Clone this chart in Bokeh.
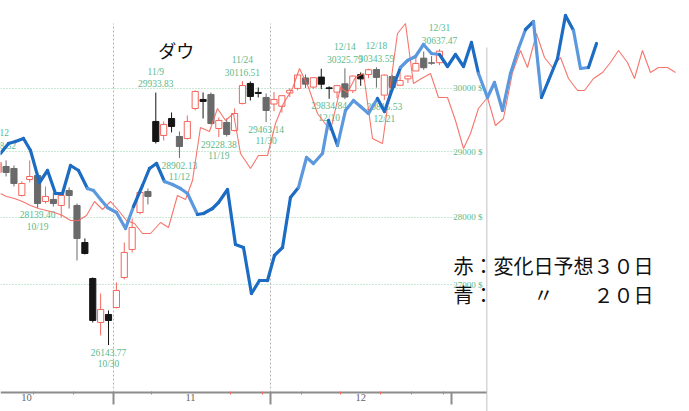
from bokeh.plotting import figure
from bokeh.models import (ColumnDataSource, Range1d, LinearAxis, FixedTicker, Grid, Label,
                          LinearScale, CustomJSTickFormatter)
from bokeh.core.properties import value
from bokeh.embed import file_html
from bokeh.resources import INLINE

# ---------------- data ----------------
dates = ["10/12", "10/13", "10/14", "10/15", "10/16", "10/19", "10/20", "10/21", "10/22", "10/23",
         "10/26", "10/27", "10/28", "10/29", "10/30", "11/2", "11/3", "11/4", "11/5", "11/6",
         "11/9", "11/10", "11/11", "11/12", "11/13", "11/16", "11/17", "11/18", "11/19", "11/20",
         "11/23", "11/24", "11/25", "11/27", "11/30", "12/1", "12/2", "12/3", "12/4", "12/7",
         "12/8", "12/9", "12/10", "12/11", "12/14", "12/15", "12/16", "12/17", "12/18", "12/21",
         "12/22", "12/23", "12/24", "12/28", "12/29", "12/30", "12/31"]
opens = [28679, 28771, 28740, 28327, 28571, 28633, 28236, 28267, 28176, 28403,
         28176, 27622, 27094, 26463, 26576, 26676, 27109, 27519, 28070, 28388,
         29474, 29253, 29521, 29237, 29206, 29680, 29824, 29904, 29363, 29458,
         29332, 29760, 30081, 29936, 29856, 29751, 29715, 29927, 30001, 30170,
         30022, 30184, 30010, 29941, 30075, 29964, 30223, 30225, 30306, 29893,
         30192, 30052, 30155, 30283, 30492, 30415, 30417]
highs = [28958.52, 28864, 28787, 28541, 28864, 28679, 28464, 28373, 28358, 28449,
         28206, 27682, 27109, 26877, 26634, 27037, 27622, 27980, 28434, 28434,
         29933.83, 29474, 29616, 29316, 29569, 29968, 29936, 29936, 29537, 29521,
         29680, 30116.51, 30113, 30016, 29920, 29943, 29884, 30005, 30218, 30227,
         30180, 30319, 30035, 30058, 30325.79, 30208, 30259, 30320, 30343.59, 30226,
         30220, 30265, 30209, 30526, 30600, 30525, 30637.47]
lows = [28648, 28617, 28465, 28312, 28525, 28139.40, 28206, 28160, 27995, 28130,
        27357, 27445, 26463, 26279, 26143.77, 26662, 27080, 27475, 28040, 28191,
        29128, 29175, 29301, 28902.13, 29190, 29648, 29521, 29427, 29228.38, 29237,
        29316, 29744, 29808, 29856, 29463.14, 29636, 29614, 29863, 29970, 30007,
        29996, 29989, 29834.84, 29841, 29830, 29926, 30043, 30166, 30014, 29815.53,
        29947, 30052, 30090, 30283, 30301, 30383, 30378]
closes = [28833, 28679, 28510, 28510, 28617, 28206, 28312, 28206, 28327, 28327,
          27682, 27460, 26491, 26648, 26491, 26921, 27475, 27845, 28373, 28312,
          29159, 29427, 29395, 29081, 29474, 29952, 29792, 29442, 29490, 29269,
          29600, 30048, 29872, 29920, 29648, 29824, 29884, 29970, 30218, 30070,
          30174, 30069, 29999, 30046, 29862, 30200, 30155, 30303, 30179, 30216,
          30016, 30130, 30200, 30404, 30336, 30410, 30606]
black_days = ["10/27", "10/28", "10/30", "11/9", "11/11", "11/17", "11/25", "11/27",
              "12/9", "12/10", "12/16"]

# high / low annotations
ann_dates = ["10/12", "10/19", "10/30", "11/9", "11/12", "11/19", "11/24", "11/30",
             "12/10", "12/14", "12/18", "12/21", "12/31"]
ann_kind = ["high", "low", "low", "high", "low", "low", "high", "low",
            "low", "high", "high", "low", "high"]

# forecast lines (x = trading-day index, v = signal level)
red_x = [0.29, 1.05, 2.07, 3.08, 4.10, 5.11, 6.13, 7.14, 8.16, 9.18, 10.19, 11.21, 12.22, 13.24,
         14.25, 15.27, 16.28, 17.30, 18.31, 19.33, 20.60, 21.61, 22.75, 23.77, 24.66, 25.67,
         26.81, 27.83, 28.85, 29.86, 30.75, 32.02, 33.03, 34.18, 35.19, 36.21, 37.35, 38.24,
         39.38, 40.52, 42.17, 43.44, 44.33, 45.34, 46.36, 47.50, 48.77, 50.67, 51.69, 52.70,
         53.72, 54.86, 55.88, 57.02, 58.03, 59.05, 59.94, 60.95, 62.09, 63.11, 64.12, 65.27,
         66.28, 67.17, 68.31, 69.33, 70.34, 71.36, 72.37, 73.52, 74.41, 75.55, 76.69, 77.70,
         78.72, 79.86, 80.75, 81.76, 82.78, 83.79, 84.94, 85.95]
red_v = [218, 215, 213, 210, 206, 203, 201, 199, 196, 191, 191, 196, 210, 202,
         210, 201, 191, 188, 178, 178, 189, 184, 216, 212, 231, 284,
         280, 303, 291, 298, 258, 243, 256, 256, 288, 308, 323, 343,
         324, 298, 281, 324, 319, 334, 338, 273, 268, 378, 388, 328,
         333, 338, 314, 314, 291, 263, 278, 303, 314, 286, 293, 339,
         361, 344, 378, 354, 344, 354, 333, 321, 321, 333, 339, 349,
         361, 349, 333, 361, 339, 344, 344, 339]
blue_x = [0.29, 1.31, 2.20, 3.21, 4.10, 5.24, 6.26, 7.27, 8.16, 9.18, 10.19, 11.33, 12.09, 13.11,
          13.87, 15.01, 16.16, 17.17, 18.31, 19.20, 20.09, 21.10, 22.12, 23.13, 24.02, 25.29,
          26.05, 27.19, 27.96, 29.10, 30.11, 31.13, 32.14, 33.16, 34.18, 35.06, 36.08, 37.09,
          38.11, 39.13, 40.01, 41.15, 41.92, 43.06, 44.07, 45.09, 45.98, 46.99, 48.13, 49.02,
          50.04, 51.05, 51.94, 52.96, 53.97, 54.99, 56.00, 57.02, 58.03, 59.05, 60.06, 60.95,
          62.09, 62.98, 64.00, 65.01, 66.03, 66.92, 67.93, 68.95, 69.84, 70.98, 71.99, 73.01,
          73.90, 74.91, 75.93]
blue_v = [258, 268, 270, 273, 261, 229, 241, 218, 218, 246, 241, 223, 221, 211,
          204, 199, 183, 205, 226, 243, 248, 230, 227, 223, 218, 197,
          198, 203, 209, 222, 167, 164, 118, 131, 131, 156, 164, 214,
          224, 254, 248, 258, 291, 266, 301, 311, 305, 298, 313, 300,
          323, 344, 351, 355, 367, 358, 357, 345, 357, 345, 369, 338,
          314, 329, 301, 338, 363, 382, 390, 314, 331, 353, 396, 381,
          343, 344, 368]
blue_light_segments = [11, 12, 13, 14, 15, 16, 21, 22, 23, 24, 38, 39, 40, 41, 43, 44, 45,
                       46, 47, 51, 52, 53, 54, 55, 61, 62, 63, 64, 65, 66, 68, 73, 74]

month_labels = ["10", "11", "12"]
month_label_pos = [3.6, 24.4, 46.0]
month_edges = [14.6, 34.55, 57.5]
week_edges = [4.5, 9.5, 19.5, 29.5, 33.5, 38.5, 43.5, 48.5, 52.5, 56.5]
price_ticks = [27000, 28000, 29000, 30000]

title_text = "ダウ"
note_lines = ["赤：変化日予想３０日", "青：　　〃　　２０日"]

# ---------------- layout constants ----------------
X_START, X_END = 0.292, 87.73
Y_START, Y_END = 25229, 31449
PANEL_EDGE = 62.0          # right edge of the Dow panel (index)
AXIS_PRICE = 25488         # price level where the date axis sits
GRID_TOP = 31064
LABEL_AXIS_X = 61.7

RED = "#f4665c"
GREEN = "#5cb98a"
NARROW = "Liberation Sans Narrow"
JP = "Noto Sans CJK JP"

p = figure(width=689, height=411, output_backend="svg", toolbar_location=None,
           x_range=Range1d(X_START, X_END), y_range=Range1d(Y_START, Y_END),
           y_axis_type="log", x_axis_location=None, y_axis_location=None,
           min_border=0, background_fill_color="white", border_fill_color="white")
p.outline_line_color = None
p.grid.visible = False
p.extra_y_ranges = {"fc": Range1d(0, 411)}
p.extra_y_scales = {"fc": LinearScale()}

# grids
ygrid = Grid(dimension=1, ticker=FixedTicker(ticks=price_ticks),
             grid_line_color="#8fd3ad", grid_line_dash="1 2", grid_line_width=1)
xgrid = Grid(dimension=0, ticker=FixedTicker(ticks=month_edges[:2]),
             grid_line_color="#b5b5b5", grid_line_dash="2 2", grid_line_width=1)
if "cross_bounds" in Grid.properties():
    ygrid.cross_bounds = (X_START, 58.0)
    xgrid.cross_bounds = (AXIS_PRICE, GRID_TOP)
p.add_layout(ygrid, "center")
p.add_layout(xgrid, "center")

# separator of the Dow panel
p.segment(x0=[PANEL_EDGE], y0=[30667], x1=[PANEL_EDGE], y1=[Y_START],
          line_color="#d6d6d6", line_width=1.5)

# candles
idx = list(range(len(dates)))
up = [i for i in idx if closes[i] >= opens[i]]
dn = [i for i in idx if closes[i] < opens[i]]
up_src = ColumnDataSource(dict(x=up, o=[opens[i] for i in up], c=[closes[i] for i in up],
                               h=[highs[i] for i in up], l=[lows[i] for i in up]))
dn_src = ColumnDataSource(dict(x=dn, o=[opens[i] for i in dn], c=[closes[i] for i in dn],
                               h=[highs[i] for i in dn], l=[lows[i] for i in dn],
                               col=["#151515" if dates[i] in black_days else "#6a6a6a" for i in dn]))
p.segment(x0="x", y0="h", x1="x", y1="l", source=up_src, line_color=RED, line_width=1)
p.vbar(x="x", width=0.78, top="c", bottom="o", source=up_src,
       fill_color="white", line_color=RED, line_width=1)
p.segment(x0="x", y0="h", x1="x", y1="l", source=dn_src, line_color="col", line_width=1)
p.vbar(x="x", width=0.78, top="o", bottom="c", source=dn_src,
       fill_color="col", line_color="col", line_width=1)

# high / low labels
ai = [dates.index(d) for d in ann_dates]
av = [highs[i] if k == "high" else lows[i] for i, k in zip(ai, ann_kind)]
ann_src = ColumnDataSource(dict(
    x=ai, y=av, d=ann_dates, t=["%.2f" % v for v in av],
    off_v=[-9 if k == "high" else 7 for k in ann_kind],
    off_d=[-21 if k == "high" else 19 for k in ann_kind]))
p.text(x="x", y="y", text="t", y_offset="off_v", source=ann_src, text_align="center",
       text_baseline="middle", text_font=value(NARROW), text_font_size="9.5px", text_color=GREEN)
p.text(x="x", y="y", text="d", y_offset="off_d", source=ann_src, text_align="center",
       text_baseline="middle", text_font=value(NARROW), text_font_size="9.5px", text_color=GREEN)

# forecast lines
p.line(red_x, red_v, y_range_name="fc", line_color=RED, line_width=1.1, line_alpha=0.9)
light = set(blue_light_segments)
seg_src = ColumnDataSource(dict(
    x0=blue_x[:-1], x1=blue_x[1:], y0=blue_v[:-1], y1=blue_v[1:],
    col=["#5b98dd" if k in light else "#1d6cc4" for k in range(len(blue_x) - 1)]))
p.segment(x0="x0", y0="y0", x1="x1", y1="y1", source=seg_src, y_range_name="fc",
          line_color="col", line_width=3.2, line_cap="round")

# date axis
xaxis = LinearAxis(fixed_location=AXIS_PRICE,
                   ticker=FixedTicker(ticks=month_label_pos, minor_ticks=month_edges),
                   formatter=CustomJSTickFormatter(args=dict(pos=month_label_pos, labels=month_labels),
                                                   code="const i = pos.findIndex(q => Math.abs(q - tick) < 1e-6); return i >= 0 ? labels[i] : '';"),
                   bounds=(X_START, PANEL_EDGE),
                   axis_line_color="#8c8c8c", axis_line_width=2,
                   major_tick_line_color=None, major_tick_out=0, major_tick_in=0,
                   minor_tick_line_color="#8c8c8c", minor_tick_line_width=2,
                   minor_tick_out=12, minor_tick_in=0,
                   major_label_standoff=-10, major_label_text_font=NARROW,
                   major_label_text_font_size="10.5px", major_label_text_color="#666666")
p.add_layout(xaxis, "below")
wk_axis = LinearAxis(fixed_location=AXIS_PRICE,
                     ticker=FixedTicker(ticks=[], minor_ticks=week_edges),
                     bounds=(X_START, PANEL_EDGE), axis_line_color=None,
                     major_tick_line_color=None, major_label_text_font_size="0px",
                     minor_tick_line_color=RED, minor_tick_line_width=1,
                     minor_tick_out=2, minor_tick_in=1)
p.add_layout(wk_axis, "below")

# price labels
yaxis = LinearAxis(fixed_location=LABEL_AXIS_X, ticker=FixedTicker(ticks=price_ticks),
                   formatter=CustomJSTickFormatter(code="return tick.toFixed(0) + ' $';"),
                   axis_line_color=None, major_tick_line_color=None, minor_tick_line_color=None,
                   major_tick_out=0, major_tick_in=0, major_label_standoff=2,
                   major_label_text_font=NARROW, major_label_text_font_size="9px",
                   major_label_text_color=GREEN)
p.add_layout(yaxis, "left")

# texts
p.add_layout(Label(x=22.6, y=30618, text=title_text, text_align="center", text_baseline="middle",
                   text_font=JP, text_font_size="18px", text_color="#111111"))
p.add_layout(Label(x=57.78, y=27284, text=note_lines[0], text_align="left", text_baseline="middle",
                   text_font=JP, text_font_size="20px", text_color="#111111"))
p.add_layout(Label(x=57.78, y=26863, text=note_lines[1], text_align="left", text_baseline="middle",
                   text_font=JP, text_font_size="20px", text_color="#111111"))

open("out.html", "w").write(file_html(p, INLINE))
